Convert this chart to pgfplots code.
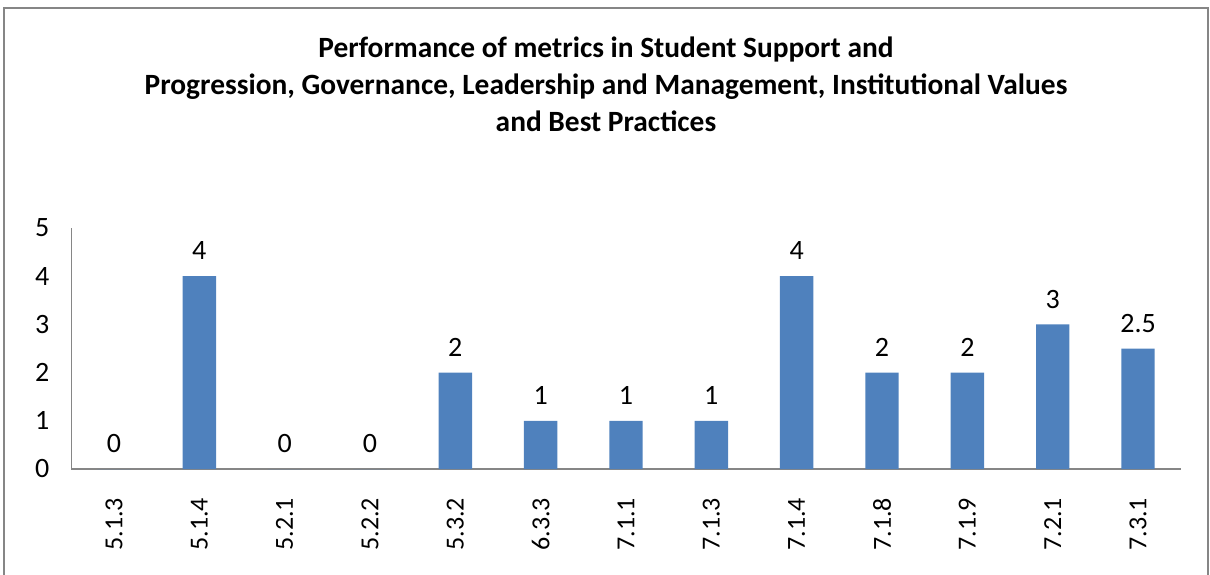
\documentclass[border=0pt]{standalone}
\usepackage{fontspec}
\setmainfont{Carlito}
\usepackage{pgfplots}
\pgfplotsset{compat=1.18}
\definecolor{barblue}{HTML}{4F81BD}
\definecolor{axgray}{HTML}{868686}
\begin{document}
\begin{tikzpicture}
\useasboundingbox (-35.65pt,-52.5pt) rectangle (569.35pt,234.5pt);
\draw[axgray, line width=0.8pt] (-33.65pt,-60pt) -- (-33.65pt,230.5pt) -- (568.35pt,230.5pt) -- (568.35pt,-60pt);
\begin{axis}[
  at={(0,0)}, anchor=south west,
  width=554.7pt, height=120.5pt, scale only axis,
  xmin=-0.5, xmax=12.5, ymin=0, ymax=5,
  axis x line*=bottom, axis y line*=left,
  axis line style={axgray, line width=0.7pt, -},
  xtick={0,...,12},
  xticklabels={5.1.3,5.1.4,5.2.1,5.2.2,5.3.2,6.3.3,7.1.1,7.1.3,7.1.4,7.1.8,7.1.9,7.2.1,7.3.1},
  ytick={0,...,5},
  major tick length=0pt,
  /pgf/number format/assume math mode=true,
  tick label style={font=\fontsize{14}{16}\selectfont, black},
  xticklabel style={rotate=90, anchor=east, font=\fontsize{13}{15}\selectfont},
  xticklabel shift=11pt,
  yticklabel shift=7.5pt,
  ybar, bar width=16.7pt,
  nodes near coords={\pgfmathprintnumber{\pgfplotspointmeta}},
  every node near coord/.append style={anchor=base, yshift=8.2pt, font=\fontsize{14}{16}\selectfont, black},
  clip=false,
]
\addplot[fill=barblue, draw=none] coordinates {
  (0,0) (1,4) (2,0) (3,0) (4,2) (5,1) (6,1) (7,1) (8,4) (9,2) (10,2) (11,3) (12,2.5)
};
\end{axis}
\node[font=\bfseries\fontsize{14.7}{18.5}\selectfont, align=center] at (267.35pt,192.5pt)
  {Performance of metrics in Student Support and\\
   Progression, Governance, Leadership and Management, Institutional Values\\
   and Best Practices};
\end{tikzpicture}
\end{document}
